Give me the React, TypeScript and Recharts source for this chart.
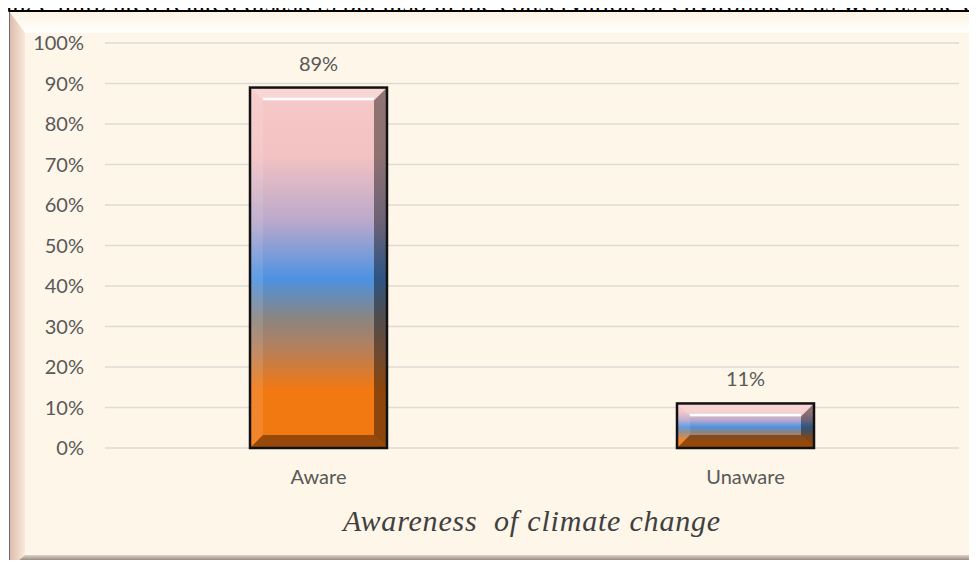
import React from 'react';
import { BarChart, Bar, XAxis, YAxis, CartesianGrid, LabelList } from 'recharts';

const categories = ['Aware', 'Unaware'];
const shares = [89, 11];
const yTicks = [0, 10, 20, 30, 40, 50, 60, 70, 80, 90, 100];

const data = categories.map((name, i) => ({ name, value: shares[i] }));

const gradStops: [number, string][] = [
  [0, '#F7C9C9'],
  [0.19, '#F3C2C2'],
  [0.37, '#BBA9CB'],
  [0.53, '#4D92E2'],
  [0.64, '#8A8580'],
  [0.72, '#B3805E'],
  [0.84, '#F27812'],
  [1, '#F27812'],
];

const BevelBar = (props: any) => {
  const { x, y, width: w, height: h, index } = props;
  if (!h || h <= 0) return null;
  const b = Math.min(13, h / 2 - 1, w / 2);
  const id = `bargrad-${index}`;
  return (
    <g>
      <defs>
        <linearGradient id={id} x1="0" y1="0" x2="0" y2="1">
          {gradStops.map(([o, c]) => (
            <stop key={o} offset={o} stopColor={c} />
          ))}
        </linearGradient>
      </defs>
      <rect x={x} y={y} width={w} height={h} fill={`url(#${id})`} />
      {/* bevel faces */}
      <polygon
        points={`${x},${y} ${x + w},${y} ${x + w - b},${y + b} ${x + b},${y + b}`}
        fill="#fff"
        fillOpacity={0.25}
      />
      <line x1={x + b} y1={y + b - 1.5} x2={x + w - b} y2={y + b - 1.5} stroke="#fff" strokeWidth={2.5} />
      <polygon
        points={`${x},${y} ${x + b},${y + b} ${x + b},${y + h - b} ${x},${y + h}`}
        fill="#fff"
        fillOpacity={0.1}
      />
      <polygon
        points={`${x + w},${y} ${x + w},${y + h} ${x + w - b},${y + h - b} ${x + w - b},${y + b}`}
        fill="#000"
        fillOpacity={0.42}
      />
      <polygon
        points={`${x},${y + h} ${x + b},${y + h - b} ${x + w - b},${y + h - b} ${x + w},${y + h}`}
        fill="#3a1a00"
        fillOpacity={0.5}
      />
      <rect x={x} y={y} width={w} height={h} fill="none" stroke="#111" strokeWidth={2.5} />
    </g>
  );
};

const Frame = () => (
  <svg width={977} height={568} style={{ position: 'absolute', left: 0, top: 0 }}>
    <defs>
      <linearGradient id="fr-left" x1="0" y1="0" x2="1" y2="0">
        <stop offset="0" stopColor="#DCB9A8" />
        <stop offset="1" stopColor="#F8EADC" />
      </linearGradient>
      <linearGradient id="fr-top" x1="0" y1="0" x2="0" y2="1">
        <stop offset="0" stopColor="#FCF3E2" />
        <stop offset="1" stopColor="#FFFFFF" />
      </linearGradient>
      <linearGradient id="fr-bottom" x1="0" y1="0" x2="0" y2="1">
        <stop offset="0" stopColor="#E3D2C6" />
        <stop offset="0.35" stopColor="#9A8E88" />
        <stop offset="1" stopColor="#6F6662" />
      </linearGradient>
    </defs>
    <rect x={9} y={11} width={970} height={560} fill="#FEF6E8" />
    <polygon points="9,11 979,11 970,33 25,33" fill="url(#fr-top)" />
    <polygon points="9,11 25,33 25,555 9,569" fill="url(#fr-left)" />
    <polygon points="979,11 979,569 970,555 970,33" fill="#E6CFBE" />
    <polygon points="9,569 25,555 970,555 979,569" fill="url(#fr-bottom)" />
    <line x1={9.5} y1={11} x2={9.5} y2={568} stroke="#6b6b6b" strokeWidth={1} />
    <line x1={9} y1={11} x2={977} y2={11} stroke="#000" strokeWidth={2} />
  </svg>
);

export default function App() {
  return (
    <div
      style={{
        position: 'relative',
        width: 977,
        height: 568,
        margin: -8,
        overflow: 'hidden',
        background: '#fff',
      }}
    >
      <div
        style={{
          position: 'absolute',
          left: -13,
          top: -10,
          fontFamily: '"Liberation Serif", serif',
          fontSize: 26.7,
          lineHeight: '26.7px',
          whiteSpace: 'nowrap',
          color: '#000',
        }}
      >
        hange mitigated related disasters but also in the conservation of environment as well as the economy
      </div>
      <Frame />
      <div style={{ position: 'absolute', left: 0, top: 0 }}>
        <BarChart
          width={977}
          height={568}
          data={data}
          margin={{ top: 43, right: 18, bottom: 0, left: 0 }}
        >
          <CartesianGrid vertical={false} stroke="#DEDAD4" strokeWidth={1.5} />
          <XAxis
            dataKey="name"
            axisLine={false}
            tickLine={false}
            tickSize={0}
            tickMargin={22}
            height={120}
            tick={{ fontFamily: 'Lato', fontSize: 20, fill: '#595959' }}
            label={{
              value: 'Awareness\u00a0 of climate change',
              position: 'insideTop',
              offset: 62,
              style: {
                fontFamily: '"Liberation Serif", serif',
                fontStyle: 'italic',
                fontSize: 30,
                letterSpacing: 0.8,
                fill: '#404040',
              },
            }}
          />
          <YAxis
            domain={[0, 100]}
            ticks={yTicks}
            tickFormatter={(v: number) => `${v}%`}
            axisLine={false}
            tickLine={false}
            tickSize={0}
            tickMargin={21}
            width={105}
            tick={{ fontFamily: 'Lato', fontSize: 20, fill: '#595959' }}
          />
          <Bar dataKey="value" barSize={137} shape={<BevelBar />} isAnimationActive={false}>
            <LabelList
              dataKey="value"
              position="top"
              offset={17}
              formatter={(v: any) => `${v}%`}
              style={{ fontFamily: 'Lato', fontSize: 20, fill: '#595959' }}
            />
          </Bar>
        </BarChart>
      </div>
    </div>
  );
}
